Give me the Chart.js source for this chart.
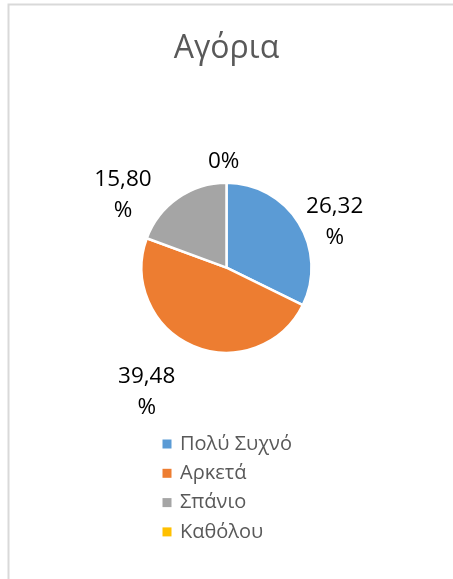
<!DOCTYPE html>
<html>
<head>
<meta charset="utf-8">
<script src="https://cdn.jsdelivr.net/npm/chart.js@4/dist/chart.umd.min.js"></script>
<style>
html,body{margin:0;padding:0;background:#fff;}
#wrap{position:relative;width:453px;height:579px;}
</style>
</head>
<body>
<div id="wrap"><canvas id="c" width="453" height="579"></canvas></div>
<script>
const titleText = "Αγόρια";
const categories = ["Πολύ Συχνό", "Αρκετά", "Σπάνιο", "Καθόλου"];
const values = [26.32, 39.48, 15.80, 0];
const colors = ["#5B9BD5", "#ED7D31", "#A5A5A5", "#FFC000"];

const FONT = "'Open Sans', 'Noto Sans', sans-serif";

function fmt(v) {
  if (v === 0) return ["0%"];
  return [v.toFixed(2).replace('.', ','), "%"];
}

const framePlugin = {
  id: 'frame',
  beforeDraw(chart) {
    const ctx = chart.ctx;
    ctx.save();
    ctx.fillStyle = '#ffffff';
    ctx.fillRect(0, 0, chart.width, chart.height);
    ctx.strokeStyle = '#d9d9d9';
    ctx.lineWidth = 2;
    ctx.beginPath();
    ctx.moveTo(8.5, chart.height);
    ctx.lineTo(8.5, 4.5);
    ctx.lineTo(chart.width, 4.5);
    ctx.stroke();
    ctx.restore();
  }
};

const labelPlugin = {
  id: 'pieLabels',
  afterDatasetsDraw(chart, args, opts) {
    const ctx = chart.ctx;
    const meta = chart.getDatasetMeta(0);
    ctx.save();
    ctx.font = opts.size + 'px ' + FONT;
    ctx.fillStyle = '#000000';
    ctx.textAlign = 'center';
    ctx.textBaseline = 'middle';
    meta.data.forEach((arc, i) => {
      const p = arc.getProps(['x', 'y', 'startAngle', 'endAngle', 'outerRadius'], true);
      const mid = (p.startAngle + p.endAngle) / 2 + opts.angleTweak[i] * Math.PI / 180;
      const r = p.outerRadius + opts.radialOffset[i];
      const cx = p.x + Math.cos(mid) * r;
      const cy = p.y + Math.sin(mid) * r;
      const lines = fmt(chart.data.datasets[0].data[i]);
      const n = lines.length;
      lines.forEach((t, k) => {
        ctx.fillText(t, cx, cy + (k - (n - 1) / 2) * opts.lineGap);
      });
    });
    ctx.restore();
  }
};

const legendPlugin = {
  id: 'vLegend',
  afterDraw(chart, args, opts) {
    const ctx = chart.ctx;
    ctx.save();
    ctx.font = opts.size + 'px ' + FONT;
    ctx.textBaseline = 'middle';
    ctx.textAlign = 'left';
    chart.data.labels.forEach((lab, i) => {
      const y = opts.top + i * opts.rowGap;
      ctx.fillStyle = chart.data.datasets[0].backgroundColor[i];
      ctx.fillRect(opts.boxX, y - opts.box / 2, opts.box, opts.box);
      ctx.fillStyle = '#595959';
      ctx.fillText(lab, opts.textX, y);
    });
    ctx.restore();
  }
};

new Chart(document.getElementById('c'), {
  type: 'pie',
  data: {
    labels: categories,
    datasets: [{
      data: values,
      backgroundColor: colors,
      borderColor: '#ffffff',
      borderWidth: 2.5
    }]
  },
  options: {
    responsive: false,
    animation: false,
    radius: 85,
    layout: { padding: { top: 0, bottom: 112, left: 0, right: 0 } },
    plugins: {
      legend: { display: false },
      tooltip: { enabled: false },
      title: {
        display: true,
        text: titleText,
        color: '#595959',
        font: { family: FONT, size: 32, weight: 'normal', lineHeight: 1.2 },
        padding: { top: 30, bottom: 0 }
      },
      pieLabels: {
        size: 22.5,
        lineGap: 31,
        angleTweak: [9, 9.5, -20, -1.5],
        radialOffset: [32.5, 62.7, 41.6, 20.7]
      },
      vLegend: {
        size: 20,
        top: 444,
        rowGap: 29.3,
        box: 9,
        boxX: 162.5,
        textX: 180
      }
    }
  },
  plugins: [framePlugin, labelPlugin, legendPlugin]
});
</script>
</body>
</html>
